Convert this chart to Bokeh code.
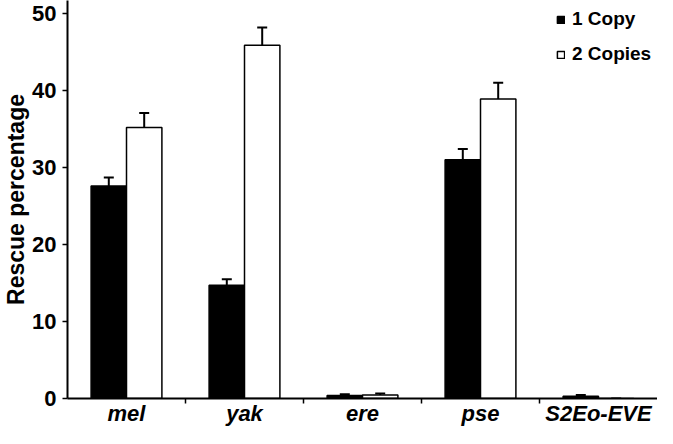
from bokeh.plotting import figure
from bokeh.models import (ColumnDataSource, Range1d, FixedTicker, Whisker, TeeHead,
                          Legend, LegendItem)
from bokeh.embed import file_html
from bokeh.resources import INLINE

categories = ["mel", "yak", "ere", "pse", "S2Eo-EVE"]
one_copy = [27.6, 14.7, 0.4, 31.0, 0.3]
one_copy_err = [1.1, 0.8, 0.15, 1.4, 0.15]
two_copies = [35.2, 45.9, 0.45, 38.9, 0.0]
two_copies_err = [1.9, 2.3, 0.2, 2.1, 0.0]
y_ticks = [0, 10, 20, 30, 40, 50]

BAR_W = 0.3
idx = list(range(len(categories)))
src1 = ColumnDataSource(dict(
    x=[i + 0.5 - BAR_W / 2 for i in idx], top=one_copy,
    upper=[v + e for v, e in zip(one_copy, one_copy_err)]))
src2 = ColumnDataSource(dict(
    x=[i + 0.5 + BAR_W / 2 for i in idx], top=two_copies,
    upper=[v + e for v, e in zip(two_copies, two_copies_err)]))

p = figure(width=657, height=428, output_backend="svg", toolbar_location=None,
           x_range=Range1d(0, len(categories)), y_range=Range1d(0, 51.7),
           min_border_left=0, min_border_right=0, min_border_top=0, min_border_bottom=0)
p.outline_line_color = None
p.xgrid.visible = False
p.ygrid.visible = False
p.background_fill_color = "white"

r1 = p.vbar(x="x", top="top", width=BAR_W, source=src1, fill_color="black",
            line_color="black", line_width=1.5)
r2 = p.vbar(x="x", top="top", width=BAR_W, source=src2, fill_color="white",
            line_color="black", line_width=1.5)

for s in (src1, src2):
    w = Whisker(source=s, base="x", lower="top", upper="upper", line_width=2,
                line_color="black",
                upper_head=TeeHead(size=10, line_width=2, line_color="black"),
                lower_head=None)
    p.add_layout(w)

FONT = "Liberation Sans"
# x axis
xa = p.xaxis[0]
xa.axis_label = None
xa.ticker = FixedTicker(ticks=[i + 0.5 for i in idx], minor_ticks=[i for i in idx[1:]])
xa.major_label_overrides = {i + 0.5: c for i, c in zip(idx, categories)}
xa.major_label_text_font = FONT
xa.major_label_text_font_style = "bold italic"
xa.major_label_text_font_size = "22px"
xa.major_label_text_color = "black"
xa.major_label_standoff = -3
xa.major_tick_out = 0
xa.major_tick_in = 0
xa.minor_tick_out = 5
xa.minor_tick_in = 0
xa.minor_tick_line_color = "black"
xa.minor_tick_line_width = 1.5
xa.axis_line_width = 2
xa.axis_line_color = "black"

# y axis
ya = p.yaxis[0]
ya.ticker = FixedTicker(ticks=y_ticks, minor_ticks=[])
ya.major_label_text_font = FONT
ya.major_label_text_font_style = "bold"
ya.major_label_text_font_size = "22px"
ya.major_label_text_color = "black"
ya.major_label_standoff = 6
ya.major_tick_out = 5
ya.major_tick_in = 0
ya.major_tick_line_width = 1.5
ya.axis_line_width = 2
ya.axis_line_color = "black"
ya.axis_label = "Rescue percentage"
ya.axis_label_text_font = FONT
ya.axis_label_text_font_style = "bold"
ya.axis_label_text_font_size = "23px"
ya.axis_label_text_color = "black"
ya.axis_label_standoff = 0

legend = Legend(items=[LegendItem(label="1 Copy", renderers=[r1]),
                       LegendItem(label="2 Copies", renderers=[r2])],
                location=(489, 333), padding=0, margin=0, spacing=13,
                glyph_width=9, glyph_height=9, label_height=9, label_standoff=7,
                label_text_font=FONT, label_text_font_style="bold",
                label_text_font_size="19px", label_text_color="black",
                border_line_color=None, background_fill_alpha=0)
p.add_layout(legend)

open("out.html", "w").write(file_html(p, INLINE))
